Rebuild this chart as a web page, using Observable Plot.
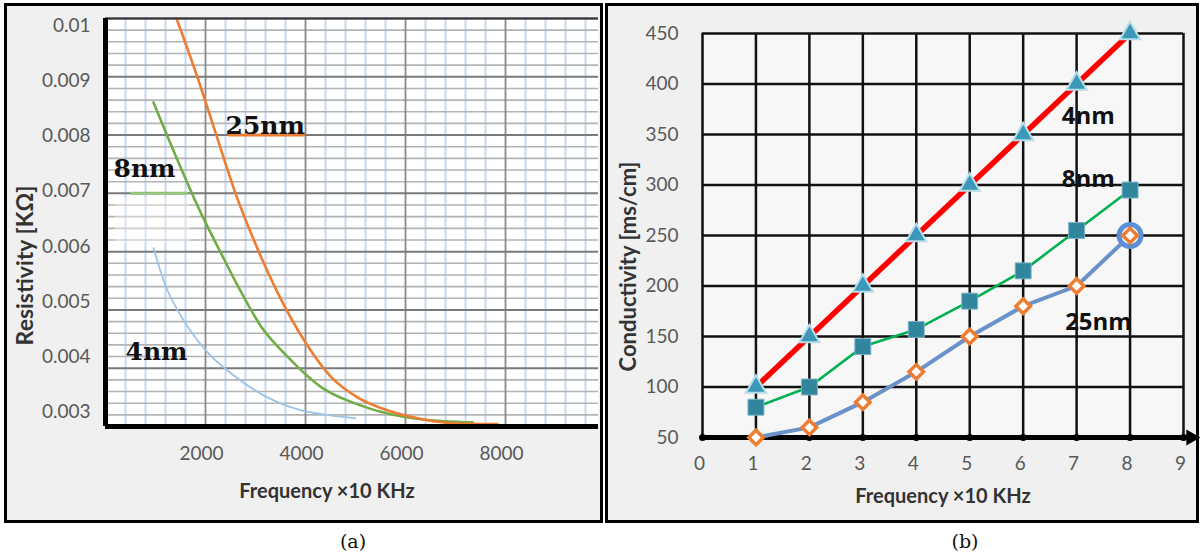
<!DOCTYPE html>
<html><head><meta charset="utf-8">
<script src="https://cdn.jsdelivr.net/npm/d3@7"></script>
<script src="https://cdn.jsdelivr.net/npm/@observablehq/plot@0.6"></script>
<style>
body{margin:0;background:#fff;}
#wrap{position:relative;width:1200px;height:554px;overflow:hidden;background:#fff;}
.panel{position:absolute;background:#f0f0f0;}
.border{position:absolute;border:3px solid #000;box-sizing:border-box;pointer-events:none;}
.cap{position:absolute;font-family:"DejaVu Serif",serif;font-size:19px;color:#111;transform:translateX(-50%);line-height:24px;}
</style></head><body>
<div id="wrap">
 <div id="pa" class="panel" style="left:5px;top:5px;width:595px;height:516px"></div>
 <div id="pb" class="panel" style="left:607px;top:5px;width:590px;height:516px"></div>
 <div class="border" style="left:4px;top:3px;width:599px;height:520px"></div>
 <div class="border" style="left:605px;top:3px;width:594px;height:520px"></div>
 <div class="cap" style="left:353px;top:529px">(a)</div>
 <div class="cap" style="left:965px;top:529px">(b)</div>
</div>
<script>
// ---------- Panel (a): Resistivity vs frequency ----------
const freq25 = [1420, 1840, 2220, 2600, 3040, 3440, 4000, 4500, 5040, 5700, 6360, 7040, 7840];
const res25  = [0.0100, 0.00899, 0.00799, 0.0070, 0.00605, 0.0053, 0.00444, 0.00386, 0.0035, 0.00326, 0.00312, 0.00305, 0.00304];
const freq8  = [960, 1960, 2300, 2660, 3100, 3640, 4360, 5040, 5700, 6360, 7340];
const res8   = [0.00856, 0.00657, 0.00599, 0.00539, 0.00473, 0.0042, 0.00365, 0.00338, 0.00321, 0.00312, 0.00307];
const freq4  = [960, 1200, 1500, 2000, 2560, 3240, 3900, 4500, 5000];
const res4   = [0.00606, 0.00542, 0.00491, 0.00431, 0.00388, 0.0035, 0.00328, 0.00319, 0.00314];
const xTicksA = [2000, 4000, 6000, 8000];
const yTicksA = [0.003, 0.004, 0.005, 0.006, 0.007, 0.008, 0.009, 0.01];
const yTickLabelsA = ["0.003", "0.004", "0.005", "0.006", "0.007", "0.008", "0.009", "0.01"];
const seriesNamesA = ["25nm", "8nm", "4nm"];

// ---------- Panel (b): Conductivity vs frequency ----------
const freqB  = [1, 2, 3, 4, 5, 6, 7, 8];
const cond4  = [100, 150, 200, 250, 300, 350, 400, 450];
const cond8  = [80, 100, 140, 157, 185, 215, 255, 295];
const cond25 = [50, 60, 85, 115, 150, 180, 200, 250];
const xTicksB = [0, 1, 2, 3, 4, 5, 6, 7, 8, 9];
const yTicksB = [50, 100, 150, 200, 250, 300, 350, 400, 450];
const seriesNamesB = ["4nm", "8nm", "25nm"];

const zip = (xs, ys) => xs.map((x, i) => ({x, y: ys[i]}));
const a25 = zip(freq25, res25), a8 = zip(freq8, res8), a4 = zip(freq4, res4);
const b4 = zip(freqB, cond4), b8 = zip(freqB, cond8), b25 = zip(freqB, cond25);

const minorXA = d3.range(1, 25).map(i => i * 400).filter(d => d % 2000 !== 0);
const minorYA = d3.range(16, 50).filter(i => i % 5 !== 0).map(i => i * 0.0002);
// the original's tick labels sit slightly compressed towards 0.008 relative to the gridlines
const labelY = t => 0.008 + (t - 0.008) * 0.948 - 0.000016;

const serifBold = {fontFamily: "'DejaVu Serif', serif", fontWeight: "bold", fontSize: 25, fill: "#111"};
const titleFont = {fontFamily: "Lato, 'Open Sans', sans-serif", fontWeight: "bold", fill: "#333"};

const plotA = Plot.plot({
  width: 595, height: 516,
  marginLeft: 100, marginRight: 2, marginTop: 13, marginBottom: 95,
  style: {background: "transparent", fontFamily: "Lato, 'Open Sans', sans-serif", fontSize: "19px", color: "#595959", overflow: "visible"},
  x: {domain: [0, 9860]},
  y: {domain: [0.003, 0.01], axis: null},
  marks: [
    Plot.frame({fill: "white", stroke: null}),
    Plot.ruleX(minorXA, {stroke: "#c5d9f1", strokeWidth: 2}),
    Plot.ruleY(minorYA, {stroke: "#b3b3b3", strokeWidth: 1.6}),
    Plot.ruleX(xTicksA, {stroke: "#8a8a8a", strokeWidth: 1.8}),
    Plot.ruleY(yTicksA, {stroke: "#7a7a7a", strokeWidth: 2}),
    Plot.rect([0], {x1: 200, x2: 1700, y1: 0.00616, y2: 0.00692, fill: "white", fillOpacity: 0.35}),
    Plot.line(a4, {x: "x", y: "y", stroke: "#9dc3e6", strokeWidth: 1.8, curve: "monotone-x"}),
    Plot.line(a8, {x: "x", y: "y", stroke: "#70ad47", strokeWidth: 2.6, curve: "monotone-x"}),
    Plot.line(a25, {x: "x", y: "y", stroke: "#ed7d31", strokeWidth: 2.6, curve: "monotone-x"}),
    Plot.ruleY([0.008], {x1: 2460, x2: 4000, stroke: "#ed7d31", strokeWidth: 3}),
    Plot.ruleY([0.007], {x1: 500, x2: 1660, stroke: "#92c47a", strokeWidth: 3}),
    Plot.text([seriesNamesA[0]], {x: 2400, y: 0.00815, textAnchor: "start", ...serifBold}),
    Plot.text([seriesNamesA[1]], {x: 160, y: 0.00741, textAnchor: "start", ...serifBold}),
    Plot.text([seriesNamesA[2]], {x: 400, y: 0.00427, textAnchor: "start", ...serifBold}),
    Plot.ruleY([0.01], {stroke: "#333", strokeWidth: 2}),
    Plot.ruleX([0], {stroke: "#000", strokeWidth: 5}),
    Plot.ruleY([0.003], {stroke: "#000", strokeWidth: 5}),
    Plot.axisX(xTicksA, {anchor: "bottom", tickSize: 0, tickPadding: 20, dx: -4, tickFormat: d => String(d), label: null}),
    Plot.text(yTicksA, {y: labelY, frameAnchor: "left", textAnchor: "end", dx: -15,
      text: d => yTickLabelsA[yTicksA.indexOf(d)], fill: "#595959"}),
    Plot.text(["Resistivity [KΩ]"], {frameAnchor: "left", textAnchor: "middle", lineAnchor: "middle", rotate: -90, dx: -80, dy: 43, fontSize: 23, ...titleFont}),
    Plot.text(["Frequency ×10 KHz"], {frameAnchor: "bottom", dx: -25, dy: 71, fontSize: 20, ...titleFont})
  ]
});
document.getElementById("pa").appendChild(plotA);

const labelFontB = {fontFamily: "'Open Sans', Lato, sans-serif", fontWeight: "bold", fontSize: 24, fill: "#111"};
const plotB = Plot.plot({
  width: 590, height: 516,
  marginLeft: 95, marginRight: 14, marginTop: 28, marginBottom: 84,
  style: {background: "transparent", fontFamily: "Lato, 'Open Sans', sans-serif", fontSize: "19px", color: "#595959", overflow: "visible"},
  x: {domain: [0, 9]},
  y: {domain: [50, 450]},
  marks: [
    Plot.frame({fill: "#f7f7f7", stroke: null}),
    Plot.ruleX(xTicksB, {stroke: "#111", strokeWidth: 2.5}),
    Plot.ruleY(yTicksB, {stroke: "#111", strokeWidth: 2.5}),
    Plot.ruleY([50], {x1: 0, x2: 9.1, stroke: "#000", strokeWidth: 5}),
    Plot.dot([9.14], {x: d => d, y: 50, symbol: "triangle", rotate: 90, r: 6, fill: "#000", stroke: null}),
    Plot.dot(xTicksB, {x: d => d, y: 50, r: 3.5, fill: "#000", stroke: null}),
    Plot.line(b25, {x: "x", y: "y", stroke: "#6a92c8", strokeWidth: 4}),
    Plot.line(b8, {x: "x", y: "y", stroke: "#00b050", strokeWidth: 2.6}),
    Plot.line(b4, {x: "x", y: "y", stroke: "#ff0000", strokeWidth: 5.5}),
    Plot.dot(b25.slice(-1), {x: "x", y: "y", r: 11, stroke: "#5b8fd6", strokeWidth: 5, fill: "white"}),
    Plot.dot(b25, {x: "x", y: "y", symbol: "diamond2", r: 6.5, stroke: "#ed7d31", strokeWidth: 3.5, fill: "white"}),
    Plot.dot(b8, {x: "x", y: "y", symbol: "square", r: 9, fill: "#31859c", stroke: "#7ab6c8", strokeWidth: 1}),
    Plot.dot(b4, {x: "x", y: "y", symbol: "triangle", r: 7.5, fill: "#3b98b8", stroke: "#b7dde8", strokeWidth: 2}),
    Plot.text([seriesNamesB[0]], {x: 7.22, y: 368, ...labelFontB}),
    Plot.text([seriesNamesB[1]], {x: 7.22, y: 306, ...labelFontB}),
    Plot.text([seriesNamesB[2]], {x: 7.41, y: 164, ...labelFontB}),
    Plot.axisX(xTicksB, {anchor: "bottom", tickSize: 0, tickPadding: 19, dx: -3, label: null}),
    Plot.axisY(yTicksB, {anchor: "left", tickSize: 0, tickPadding: 24, label: null}),
    Plot.text(["Conductivity [ms/cm]"], {frameAnchor: "left", textAnchor: "middle", lineAnchor: "middle", rotate: -90, dx: -74, dy: 31, fontSize: 22, ...titleFont}),
    Plot.text(["Frequency ×10 KHz"], {frameAnchor: "bottom", dy: 65, fontSize: 20, ...titleFont})
  ]
});
document.getElementById("pb").appendChild(plotB);
</script>
</body></html>
